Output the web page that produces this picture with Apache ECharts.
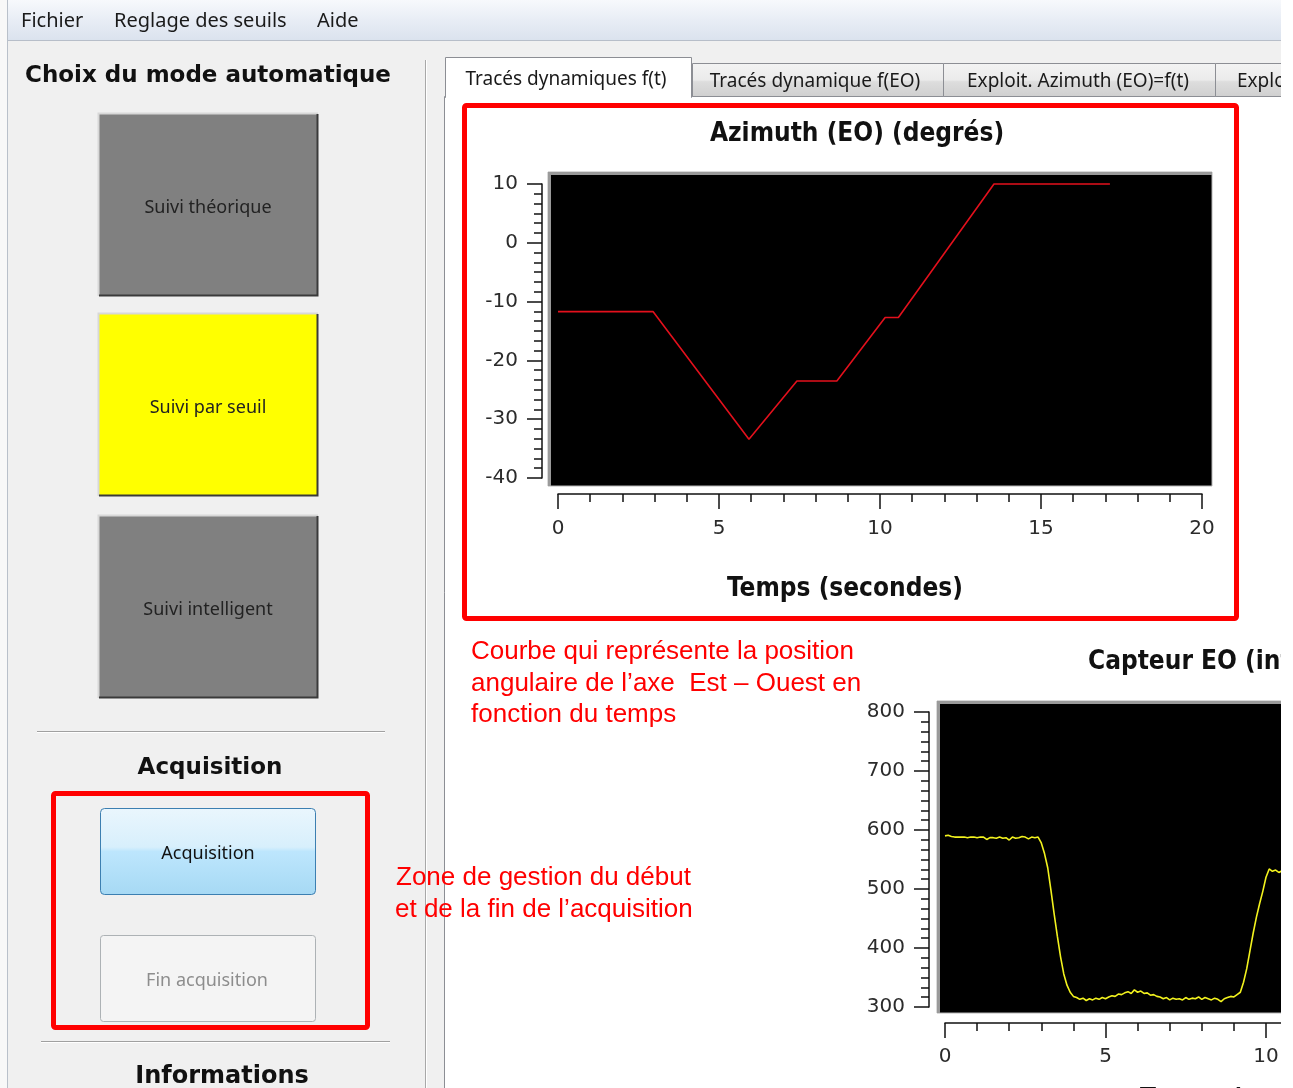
<!DOCTYPE html>
<html lang="fr">
<head>
  <meta charset="UTF-8">
  <title>Suivi solaire - Tracés dynamiques f(t)</title>
  <style>
    html, body { margin: 0; padding: 0; background: #fff; }
    #frame { width: 1281px; height: 1088px; overflow: hidden; }
    #main { width: 1700px; height: 1088px; }
  </style>
  <script src="https://cdn.jsdelivr.net/npm/echarts@6/dist/echarts.min.js"></script>
</head>
<body>
  <div id="frame"><div id="main"></div></div>
  <script>
    // Azimuth (EO) en degrés en fonction du temps (s)
    const azimuthTime = [0, 2.95, 5.93, 7.42, 8.66, 10.16, 10.57, 13.54, 17.14];
    const azimuthDeg = [-11.7, -11.7, -33.4, -23.5, -23.5, -12.7, -12.7, 10, 10];

    // Capteur EO : [temps (s), valeur]
    const eoSamples = [
      [0.0, 590], [0.1, 591], [0.2, 589], [0.3, 588], [0.4, 588], [0.5, 588], [0.6, 588], [0.7, 587],
      [0.8, 588], [0.9, 588], [1.0, 587], [1.1, 588], [1.2, 588], [1.3, 584], [1.4, 587], [1.5, 587],
      [1.6, 586], [1.7, 588], [1.8, 586], [1.9, 587], [2.0, 583], [2.1, 588], [2.2, 586], [2.3, 587],
      [2.4, 589], [2.5, 588], [2.6, 585], [2.7, 588], [2.8, 587], [2.9, 588],
      [3.0, 578], [3.1, 560], [3.2, 536], [3.3, 498], [3.4, 458], [3.5, 420], [3.6, 385], [3.7, 356],
      [3.8, 337], [3.9, 325], [4.0, 318], [4.1, 316], [4.2, 313], [4.3, 315], [4.4, 311], [4.5, 314],
      [4.6, 312], [4.7, 315], [4.8, 313], [4.9, 316], [5.0, 314], [5.1, 317], [5.2, 319], [5.3, 318],
      [5.4, 322], [5.5, 321], [5.6, 324], [5.7, 326], [5.8, 323], [5.9, 329], [6.0, 325], [6.1, 327],
      [6.2, 323], [6.3, 324], [6.4, 320], [6.5, 321], [6.6, 318], [6.7, 317], [6.8, 314], [6.9, 316],
      [7.0, 312], [7.1, 315], [7.2, 313], [7.3, 314], [7.4, 312], [7.5, 316], [7.6, 313], [7.7, 315],
      [7.8, 314], [7.9, 317], [8.0, 313], [8.1, 316], [8.2, 314], [8.3, 312], [8.4, 315], [8.5, 313],
      [8.6, 309], [8.7, 314], [8.8, 316], [8.9, 318], [9.0, 317], [9.1, 321], [9.2, 325],
      [9.3, 342], [9.4, 365], [9.5, 395], [9.6, 425], [9.7, 452], [9.8, 475], [9.9, 496], [10.0, 520],
      [10.1, 534], [10.2, 530], [10.3, 532], [10.4, 528], [10.5, 531]
    ];

    const menuItems = ['Fichier', 'Reglage des seuils', 'Aide'];
    const tabNames = ['Tracés dynamiques f(t)', 'Tracés dynamique f(EO)', 'Exploit. Azimuth (EO)=f(t)', 'Exploit. Azimuth (EO)=f(EO)'];

    const myChart = echarts.init(document.getElementById('main'));

    const uiFont = '"Noto Sans", "Open Sans", sans-serif';
    const titleFont = '"DejaVu Sans Condensed", "DejaVu Sans", sans-serif';
    const red = '#ff0000';

    function rect(x, y, w, h, style, extra) {
      return Object.assign({ type: 'rect', shape: { x: x, y: y, width: w, height: h }, style: style }, extra || {});
    }
    function line(x1, y1, x2, y2, color, width) {
      return { type: 'line', shape: { x1: x1, y1: y1, x2: x2, y2: y2 }, style: { stroke: color, lineWidth: width || 1 } };
    }
    // le centre visuel des glyphes est un peu au-dessus du milieu : on décale de 2px
    function text(str, x, y, font, extra) {
      return {
        type: 'text', x: x, y: y + 2, z: 20,
        style: Object.assign({ text: str, fill: '#1a1a1a', align: 'left', verticalAlign: 'middle' }, font, extra || {})
      };
    }
    function vGrad(stops) {
      return new echarts.graphic.LinearGradient(0, 0, 0, 1, stops.map(function (s) { return { offset: s[0], color: s[1] }; }));
    }
    // bouton gris / jaune à bord en relief
    function panelButton(y, fill, label) {
      return [
        rect(98, y, 220, 183, { fill: fill }),
        { type: 'polyline', shape: { points: [[98.5, y + 183], [98.5, y + 0.5], [318, y + 0.5]] }, style: { stroke: '#d8d8d8', lineWidth: 2, fill: null } },
        { type: 'polyline', shape: { points: [[99, y + 182.5], [317.5, y + 182.5], [317.5, y + 1]] }, style: { stroke: '#3a3a3a', lineWidth: 2, fill: null } },
        text(label, 208, y + 93, { fontFamily: uiFont, fontSize: 18 }, { align: 'center', fill: '#222' })
      ];
    }

    let graphics = [];
    // fond de la fenêtre
    graphics.push(rect(0, 0, 1700, 1088, { fill: '#f0f0f0' }, { z: -20 }));
    graphics.push(rect(0, 0, 7, 1088, { fill: '#f8f8f8' }, { z: -19 }));
    graphics.push(Object.assign(line(7.5, 0, 7.5, 1088, '#b9c0ca', 1), { z: -18 }));
    // barre de menu
    graphics.push(rect(8, 0, 1700, 40, { fill: vGrad([[0, '#f7f9fc'], [0.5, '#e8edf5'], [1, '#dbe3ee']]) }, { z: -18 }));
    graphics.push(Object.assign(line(8, 40.5, 1700, 40.5, '#b7bec9', 1), { z: -17 }));
    const menuX = [21, 114, 317];
    menuItems.forEach(function (m, i) {
      graphics.push(text(m, menuX[i], 19, { fontFamily: uiFont, fontSize: 20 }));
    });

    // panneau de gauche
    graphics.push(text('Choix du mode automatique', 25, 74, { fontFamily: '"DejaVu Sans"', fontSize: 23, fontWeight: 'bold' }, { fill: '#111' }));
    graphics = graphics.concat(panelButton(113, '#808080', 'Suivi théorique'));
    graphics = graphics.concat(panelButton(313, '#ffff00', 'Suivi par seuil'));
    graphics = graphics.concat(panelButton(515, '#808080', 'Suivi intelligent'));
    graphics.push(line(37, 731.5, 385, 731.5, '#a0a0a0', 1));
    graphics.push(line(37, 732.5, 385, 732.5, '#ffffff', 1));
    graphics.push(text('Acquisition', 210, 766, { fontFamily: '"DejaVu Sans"', fontSize: 23, fontWeight: 'bold' }, { align: 'center', fill: '#111' }));
    graphics.push(rect(100.5, 808.5, 215, 86, {
      fill: vGrad([[0, '#eaf6fd'], [0.45, '#d7effc'], [0.5, '#bde6fd'], [1, '#a6d9f4']]),
      stroke: '#3c7fb1', lineWidth: 1
    }, { shape: { x: 100.5, y: 808.5, width: 215, height: 86, r: 4 } }));
    graphics.push(text('Acquisition', 208, 852, { fontFamily: uiFont, fontSize: 18 }, { align: 'center', fill: '#111' }));
    graphics.push(rect(100.5, 935.5, 215, 86, { fill: '#f4f4f4', stroke: '#adb2b5', lineWidth: 1 },
      { shape: { x: 100.5, y: 935.5, width: 215, height: 86, r: 3 } }));
    graphics.push(text('Fin acquisition', 207, 979, { fontFamily: uiFont, fontSize: 18 }, { align: 'center', fill: '#8d8d8d' }));
    graphics.push(rect(53.5, 793.5, 314, 234, { fill: null, stroke: red, lineWidth: 5 },
      { shape: { x: 53.5, y: 793.5, width: 314, height: 234, r: 2 } }));
    graphics.push(line(41, 1041.5, 390, 1041.5, '#a0a0a0', 1));
    graphics.push(line(41, 1042.5, 390, 1042.5, '#ffffff', 1));
    graphics.push(text('Informations', 222, 1075, { fontFamily: '"DejaVu Sans"', fontSize: 24, fontWeight: 'bold' }, { align: 'center', fill: '#111' }));
    graphics.push(line(425.5, 60, 425.5, 1088, '#a8a8a8', 1));
    graphics.push(line(426.5, 60, 426.5, 1088, '#ffffff', 1));

    // onglets
    graphics.push(rect(444.5, 96.5, 1300, 1000, { fill: '#ffffff', stroke: '#8c8e94', lineWidth: 1 }, { z: -10 }));
    const tabX = [692.5, 943.5, 1215.5];
    const tabW = [251, 272, 290];
    tabX.forEach(function (x, i) {
      graphics.push(rect(x, 63.5, tabW[i], 33, { fill: vGrad([[0, '#f3f3f3'], [0.5, '#ebebeb'], [0.55, '#dddddd'], [1, '#cfcfcf']]), stroke: '#8c8e94', lineWidth: 1 }, { z: -9 }));
    });
    graphics.push(rect(445.5, 57.5, 246, 40, { fill: '#ffffff', stroke: '#8c8e94', lineWidth: 1 }, { z: -8 }));
    graphics.push(rect(446, 95, 245, 4, { fill: '#ffffff' }, { z: -7 }));
    graphics.push(text(tabNames[0], 566, 78, { fontFamily: uiFont, fontSize: 19 }, { align: 'center' }));
    graphics.push(text(tabNames[1], 815, 80, { fontFamily: uiFont, fontSize: 19 }, { align: 'center' }));
    graphics.push(text(tabNames[2], 1078, 80, { fontFamily: uiFont, fontSize: 19 }, { align: 'center' }));
    graphics.push(text(tabNames[3], 1237, 80, { fontFamily: uiFont, fontSize: 19 }));

    // cadre rouge du graphe azimuth + zones noires des tracés
    graphics.push(rect(464.5, 105.5, 772, 513, { fill: null, stroke: red, lineWidth: 5 },
      { shape: { x: 464.5, y: 105.5, width: 772, height: 513, r: 2 } }));
    graphics.push(rect(548, 172, 664, 314, { fill: '#000', stroke: '#b5b5b5', lineWidth: 1 }, { z: -5 }));
    graphics.push({ type: 'polyline', z: -4, shape: { points: [[549.5, 486], [549.5, 173.5], [1212, 173.5]] }, style: { stroke: '#9a9a9a', lineWidth: 3, fill: null } });
    graphics.push(rect(937, 701, 664, 312, { fill: '#000', stroke: '#b5b5b5', lineWidth: 1 }, { z: -5 }));
    graphics.push({ type: 'polyline', z: -4, shape: { points: [[938.5, 1013], [938.5, 702.5], [1601, 702.5]] }, style: { stroke: '#9a9a9a', lineWidth: 3, fill: null } });

    // titres et noms d'axes
    const chartTitleFont = { fontFamily: titleFont, fontSize: 26, fontWeight: 'bold' };
    graphics.push(text('Azimuth (EO) (degrés)', 857, 132, chartTitleFont, { align: 'center', fill: '#111' }));
    graphics.push(text('Temps (secondes)', 845, 587, chartTitleFont, { align: 'center', fill: '#111' }));
    graphics.push(text('Capteur EO (intensité)', 1088, 660, chartTitleFont, { fill: '#111' }));
    graphics.push(text('Temps (secondes)', 1140, 1098, chartTitleFont, { fill: '#111' }));

    // annotations rouges
    const noteFont = { fontFamily: '"Liberation Sans", Arial, sans-serif', fontSize: 26 };
    graphics.push(text('Courbe qui représente la position', 471, 650, noteFont, { fill: red }));
    graphics.push(text('angulaire de l’axe  Est – Ouest en', 471, 682, noteFont, { fill: red }));
    graphics.push(text('fonction du temps', 471, 713, noteFont, { fill: red }));
    graphics.push(text('Zone de gestion du début', 396, 876, noteFont, { fill: red }));
    graphics.push(text('et de la fin de l’acquisition', 395, 908, noteFont, { fill: red }));

    const axisColor = '#111';
    const labelStyle = { color: '#2b2b2b', fontSize: 20, fontFamily: '"DejaVu Sans"' };
    function valueAxis(opts, minorSplit, margin) {
      return Object.assign({
        type: 'value',
        z: 10,
        axisLine: { show: true, onZero: false, lineStyle: { color: axisColor, width: 1.5 } },
        axisTick: { show: true, length: 15, lineStyle: { color: axisColor, width: 1.5 } },
        minorTick: { show: true, splitNumber: minorSplit, length: 8, lineStyle: { color: axisColor, width: 1.5 } },
        splitLine: { show: false },
        minorSplitLine: { show: false },
        axisLabel: Object.assign({ margin: margin }, labelStyle)
      }, opts);
    }

    const option = {
      animation: false,
      graphic: { elements: graphics },
      grid: [
        { left: 558, top: 184, width: 644, height: 294, show: false },
        { left: 945, top: 712, width: 642, height: 295, show: false }
      ],
      xAxis: [
        valueAxis({ gridIndex: 0, min: 0, max: 20, interval: 5, offset: 16 }, 5, 25),
        valueAxis({ gridIndex: 1, min: 0, max: 20, interval: 5, offset: 16 }, 5, 24)
      ],
      yAxis: [
        valueAxis({ gridIndex: 0, min: -40, max: 10, interval: 10, offset: 16 }, 6, 24),
        valueAxis({ gridIndex: 1, min: 300, max: 800, interval: 100, offset: 16 }, 6, 24)
      ],
      series: [
        {
          name: 'Azimuth (EO)',
          type: 'line',
          xAxisIndex: 0,
          yAxisIndex: 0,
          z: 12,
          clip: false,
          showSymbol: false,
          lineStyle: { color: '#e3101c', width: 1.6 },
          data: azimuthTime.map(function (t, i) { return [t, azimuthDeg[i]]; })
        },
        {
          name: 'Capteur EO',
          type: 'line',
          xAxisIndex: 1,
          yAxisIndex: 1,
          z: 12,
          showSymbol: false,
          lineStyle: { color: '#f2f21e', width: 1.6 },
          data: eoSamples
        }
      ]
    };
    myChart.setOption(option);
  </script>
</body>
</html>
